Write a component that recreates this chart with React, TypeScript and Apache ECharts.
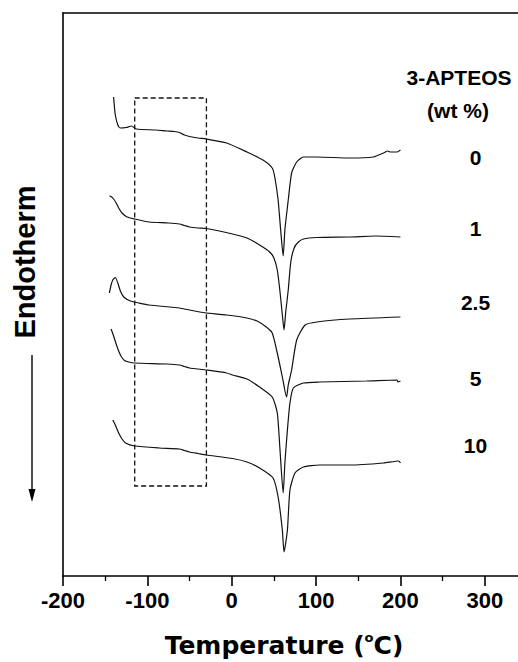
import React, { useEffect, useRef } from 'react';
import * as echarts from 'echarts';

// DSC curves, x = temperature (°C), y = heat flow (arbitrary units, curves offset)
const compositions = ['0', '1', '2.5', '5', '10'];

const temp0 = [-140, -138, -134.5, -132, -125, -119, -113, -90, -77, -68, -62, -56, -50, -40, -30, -6, 18, 37, 48, 51, 55, 58, 61, 63, 67, 71, 77, 85, 101, 140, 168, 180, 185, 188, 196, 200];
const flow0 = [47.9, 46.1, 45.0, 44.8, 44.85, 45.0, 44.7, 44.6, 44.5, 44.45, 44.35, 44.1, 43.95, 43.8, 43.7, 43.3, 42.4, 41.6, 40.8, 39.9, 37.6, 34.6, 32.0, 34.6, 37.6, 40.3, 41.4, 41.9, 41.9, 41.8, 41.9, 42.3, 42.5, 42.4, 42.4, 42.6];

const temp1 = [-145, -143, -140, -137, -134, -130, -124, -115, -98, -75, -62, -56, -50, -40, -30, 1, 18, 33, 45, 50, 54, 57, 60, 62, 64, 67, 70, 74, 79, 85, 101, 140, 170, 200];
const flow1 = [38.0, 37.95, 37.7, 37.3, 36.8, 36.3, 35.9, 35.7, 35.4, 35.3, 35.2, 35.05, 34.9, 34.8, 34.75, 34.2, 33.8, 33.1, 32.4, 31.8, 30.6, 28.6, 26.1, 24.6, 26.4, 28.6, 31.4, 32.8, 33.4, 33.7, 33.85, 33.9, 34.0, 33.9];

const temp2 = [-145, -143, -141, -138, -135, -132, -128, -120, -110, -98, -62, -50, -38, -30, -6, 18, 30, 41, 48, 54, 60, 65, 67, 71, 77, 87, 101, 140, 200];
const flow2 = [28.3, 29.1, 29.6, 29.85, 29.3, 28.5, 27.9, 27.5, 27.3, 27.1, 26.8, 26.6, 26.4, 26.3, 26.1, 25.8, 25.5, 24.9, 24.3, 22.3, 19.9, 17.9, 19.1, 20.6, 23.6, 25.1, 25.4, 25.7, 25.9];

const temp3 = [-143, -140, -137, -134, -131, -127, -122, -115, -77, -62, -56, -50, -40, -30, -6, 1, 18, 33, 48, 54, 57, 61, 63, 66, 69, 73, 85, 104, 160, 196, 197, 200];
const flow3 = [24.7, 24.0, 23.2, 22.5, 21.95, 21.55, 21.4, 21.3, 21.2, 21.1, 20.95, 20.8, 20.7, 20.6, 20.3, 20.1, 19.7, 18.9, 17.9, 16.3, 12.9, 8.3, 11.3, 14.6, 17.3, 18.8, 19.3, 19.4, 19.5, 19.6, 19.4, 19.5];

const temp4 = [-141, -138, -134, -130, -126, -115, -86, -62, -56, -50, -40, -30, 1, 18, 33, 49, 55, 60, 62, 66, 69, 75, 85, 104, 140, 180, 198, 200];
const flow4 = [15.6, 15.1, 14.3, 13.7, 13.3, 13.0, 12.8, 12.7, 12.55, 12.4, 12.25, 12.1, 11.75, 11.4, 10.8, 9.8, 7.9, 4.6, 2.4, 4.6, 8.6, 10.3, 10.9, 11.1, 11.1, 11.3, 11.5, 11.3];

const curveTemps = [temp0, temp1, temp2, temp3, temp4];
const curveFlows = [flow0, flow1, flow2, flow3, flow4];

// glass-transition region box (°C, heat-flow units)
const boxTemps = [-115, -30];
const boxFlows = [47.8, 9.0];

const xTickLabels = [-200, -100, 0, 100, 200, 300];

// composition label placement (°C, heat-flow units)
const labelTemp = 289;
const labelFlows = [41.9, 34.8, 27.4, 19.8, 13.1];

const ARIAL = '"Liberation Sans", Arial, sans-serif';
const DEJAVU = '"DejaVu Sans", sans-serif';

export default function App() {
  const ref = useRef<HTMLDivElement>(null);
  useEffect(() => {
    if (!ref.current) return;
    const chart = echarts.init(ref.current, null, { renderer: 'svg' });

    const series: any[] = curveTemps.map((ts, i) => ({
      type: 'line',
      name: compositions[i] + ' wt %',
      data: ts.map((t, j) => [t, curveFlows[i][j]]),
      showSymbol: false,
      symbol: 'none',
      smooth: 0.2,
      silent: true,
      lineStyle: { color: '#111', width: 1.2 },
      xAxisIndex: 0,
      yAxisIndex: 0,
      markArea:
        i === 0
          ? {
              silent: true,
              itemStyle: {
                color: 'rgba(0,0,0,0)',
                borderColor: '#111',
                borderWidth: 1.3,
                borderType: [5, 3],
              },
              data: [[{ coord: [boxTemps[0], boxFlows[0]] }, { coord: [boxTemps[1], boxFlows[1]] }]],
            }
          : undefined,
    }));

    series.push({
      type: 'scatter',
      data: labelFlows.map((f, i) => ({ value: [labelTemp, f], name: compositions[i] })),
      symbolSize: 0,
      silent: true,
      itemStyle: { opacity: 1, color: '#000' },
      label: {
        show: true,
        position: 'inside',
        formatter: (p: any) => p.name,
        fontFamily: ARIAL,
        fontWeight: 'bold',
        fontSize: 21,
        color: '#000',
        opacity: 1,
        textBorderWidth: 0,
      },
    });

    const option: any = {
      animation: false,
      grid: { left: 63, top: 13, width: 464, height: 563, outerBoundsMode: 'none', containLabel: false },
      xAxis: [
        {
          type: 'value',
          min: -200,
          max: 350,
          interval: 100,
          position: 'bottom',
          axisLine: { show: true, onZero: false, lineStyle: { color: '#000', width: 1.6 } },
          axisTick: { show: true, inside: false, length: 10, lineStyle: { color: '#000', width: 1.6 } },
          minorTick: { show: true, splitNumber: 2, length: 5, lineStyle: { color: '#000', width: 1.3 } },
          axisLabel: {
            color: '#000',
            fontFamily: ARIAL,
            fontWeight: 'bold',
            fontSize: 22,
            margin: 13,
            formatter: (v: number) => (xTickLabels.indexOf(v) >= 0 ? String(v) : ''),
          },
          splitLine: { show: false },
        },
        {
          type: 'value',
          min: -200,
          max: 350,
          position: 'top',
          axisLine: { show: true, onZero: false, lineStyle: { color: '#000', width: 1.6 } },
          axisTick: { show: false },
          axisLabel: { show: false },
          splitLine: { show: false },
        },
      ],
      yAxis: {
        type: 'value',
        min: 0,
        max: 56.3,
        axisLine: { show: true, onZero: false, lineStyle: { color: '#000', width: 1.6 } },
        axisTick: { show: false },
        axisLabel: { show: false },
        splitLine: { show: false },
      },
      graphic: [
        {
          type: 'text',
          x: 459,
          y: 77,
          silent: true,
          style: { text: '3-APTEOS', textAlign: 'center', textVerticalAlign: 'middle', font: `bold 21px ${ARIAL}`, fill: '#000' },
        },
        {
          type: 'text',
          x: 458,
          y: 110,
          silent: true,
          style: { text: '(wt %)', textAlign: 'center', textVerticalAlign: 'middle', font: `bold 21px ${ARIAL}`, fill: '#000' },
        },
        {
          type: 'text',
          x: 25,
          y: 262,
          rotation: Math.PI / 2,
          silent: true,
          style: { text: 'Endotherm', textAlign: 'center', textVerticalAlign: 'middle', font: `bold 29px ${ARIAL}`, fill: '#000' },
        },
        {
          type: 'line',
          silent: true,
          shape: { x1: 32, y1: 355, x2: 32, y2: 494 },
          style: { stroke: '#000', lineWidth: 1.4 },
        },
        {
          type: 'polygon',
          silent: true,
          shape: { points: [[28.5, 489], [35.5, 489], [32, 502]] },
          style: { fill: '#000' },
        },
        {
          type: 'text',
          x: 284,
          y: 645,
          silent: true,
          style: {
            text: '{a|Temperature (}{s|o}{a|C)}',
            textAlign: 'center',
            textVerticalAlign: 'middle',
            rich: {
              a: { fontFamily: DEJAVU, fontWeight: 'bold', fontSize: 25, lineHeight: 28, fill: '#000', color: '#000' },
              s: { fontFamily: DEJAVU, fontWeight: 'bold', fontSize: 13, lineHeight: 14, verticalAlign: 'top', fill: '#000', color: '#000' },
            },
          },
        },
      ],
      series,
    };

    chart.setOption(option);
    return () => chart.dispose();
  }, []);

  return <div ref={ref} style={{ position: 'absolute', left: 0, top: 0, width: 518, height: 662 }} />;
}
